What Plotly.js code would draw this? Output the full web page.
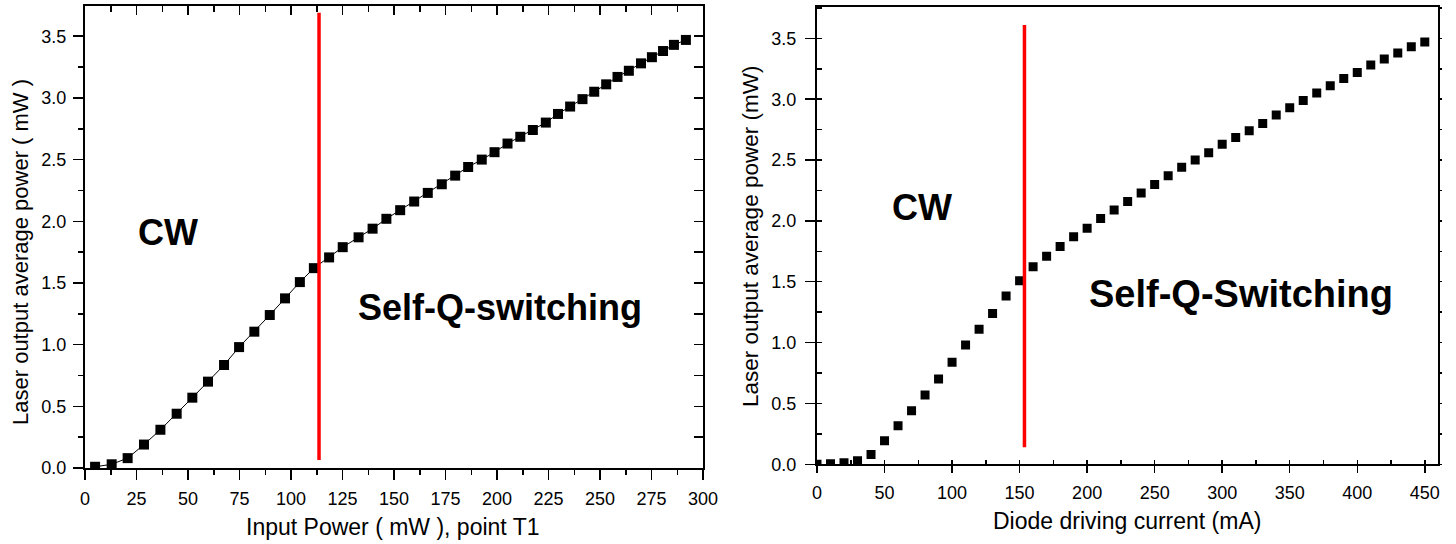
<!DOCTYPE html>
<html>
<head>
<meta charset="utf-8">
<script src="https://cdn.plot.ly/plotly-3.0.1.min.js"></script>
<style>html,body{margin:0;padding:0;background:#fff;}#chart{width:1456px;height:544px;}</style>
</head>
<body>
<div id="chart"></div>
<script>
// ---- Left panel: output power vs input power (point T1)
const inputPower = [4.9, 12.95, 20.7, 28.65, 36.6, 44.5, 52.1, 59.7, 67.5, 74.8, 82.2, 89.7, 97.1, 104.3, 111.1, 118.5,
  125.1, 132.8, 139.6, 146.3, 153.0, 159.8, 166.4, 173.2, 179.7, 186.0, 192.6, 198.8, 205.1, 211.3, 217.4, 223.7,
  229.6, 235.5, 241.5, 247.2, 253.0, 258.5, 264.0, 269.9, 275.2, 280.6, 285.9, 291.7];
const outputPowerLeft = [0.01, 0.03, 0.08, 0.19, 0.31, 0.44, 0.57, 0.70, 0.835, 0.98, 1.105, 1.24, 1.375, 1.507, 1.62, 1.707,
  1.79, 1.87, 1.94, 2.02, 2.09, 2.16, 2.23, 2.30, 2.37, 2.44, 2.50, 2.56, 2.63, 2.685, 2.74, 2.80,
  2.87, 2.93, 2.99, 3.05, 3.11, 3.17, 3.22, 3.28, 3.33, 3.38, 3.43, 3.47];
const thresholdLeftX = [113.6, 113.6];
const thresholdLeftY = [0.065, 3.69];

// ---- Right panel: output power vs diode driving current
const diodeCurrent = [0, 10, 20, 30, 40, 50, 60, 70, 80, 90, 100, 110, 120, 130, 140, 150, 160, 170, 180, 190,
  200, 210, 220, 230, 240, 250, 260, 270, 280, 290, 300, 310, 320, 330, 340, 350, 360, 370, 380, 390,
  400, 410, 420, 430, 440, 450];
const outputPowerRight = [0.0, 0.005, 0.013, 0.03, 0.08, 0.194, 0.317, 0.44, 0.57, 0.70, 0.838, 0.98, 1.109, 1.24, 1.383, 1.509, 1.624, 1.71, 1.79, 1.87,
  1.94, 2.02, 2.09, 2.16, 2.23, 2.30, 2.37, 2.44, 2.50, 2.56, 2.63, 2.685, 2.74, 2.80, 2.87, 2.93, 2.99, 3.05, 3.11, 3.17,
  3.22, 3.28, 3.33, 3.38, 3.43, 3.47];
const thresholdRightX = [153.6, 153.6];
const thresholdRightY = [0.14, 3.61];

// ---- Text
const leftXTitle = 'Input Power ( mW ), point T1';
const leftYTitle = 'Laser output average power ( mW )';
const rightXTitle = 'Diode driving current (mA)';
const rightYTitle = 'Laser output average power (mW)';
const regionLabels = ['CW', 'Self-Q-switching', 'CW', 'Self-Q-Switching'];

const FONT = 'Liberation Sans, Arial, Helvetica, sans-serif';
const tickFont = {family: FONT, size: 18, color: '#000'};

const traces = [
  {x: inputPower, y: outputPowerLeft, xaxis: 'x', yaxis: 'y', mode: 'lines+markers', type: 'scatter',
   line: {color: '#000', width: 1}, marker: {symbol: 'square', size: 10, color: '#000'}, hoverinfo: 'x+y'},
  {x: thresholdLeftX, y: thresholdLeftY, xaxis: 'x', yaxis: 'y', mode: 'lines', type: 'scatter',
   line: {color: '#ff0000', width: 3.5}, hoverinfo: 'skip'},
  {x: diodeCurrent, y: outputPowerRight, xaxis: 'x2', yaxis: 'y2', mode: 'markers', type: 'scatter',
   marker: {symbol: 'square', size: 9, color: '#000'}, hoverinfo: 'x+y'},
  {x: thresholdRightX, y: thresholdRightY, xaxis: 'x2', yaxis: 'y2', mode: 'lines', type: 'scatter',
   line: {color: '#ff0000', width: 3.5}, hoverinfo: 'skip'},
  // invisible carriers for the mirrored tick axes
  {x: [null], y: [null], xaxis: 'x3', yaxis: 'y3', mode: 'markers', type: 'scatter', hoverinfo: 'skip'},
  {x: [null], y: [null], xaxis: 'x2', yaxis: 'y4', mode: 'markers', type: 'scatter', hoverinfo: 'skip'}
];

const leftXDomain = [85/1456, 703/1456];
const rightXDomain = [817/1456, 1438.3/1456];
const leftYDomain = [(544-468)/544, (544-6)/544];
const rightYDomain = [(544-464.3)/544, (544-7.3)/544];

const layout = {
  width: 1456, height: 544, autosize: false,
  margin: {l: 0, r: 0, t: 0, b: 0, pad: 0},
  paper_bgcolor: '#fff', plot_bgcolor: '#fff',
  showlegend: false,
  font: {family: FONT, color: '#000'},
  xaxis: {domain: leftXDomain, anchor: 'y', range: [0, 300], dtick: 25, tick0: 0,
    showline: true, linecolor: '#000', linewidth: 2, mirror: true, showgrid: false, zeroline: false,
    ticks: 'outside', ticklen: 10, tickwidth: 1.5, tickcolor: '#000', tickfont: tickFont, ticklabelstandoff: 3,
    minor: {dtick: 12.5, ticks: 'outside', ticklen: 5, tickwidth: 1.5, tickcolor: '#000', showgrid: false}},
  yaxis: {domain: leftYDomain, anchor: 'x', range: [0, 3.745], dtick: 0.5, tick0: 0, tickformat: '.1f',
    showline: true, linecolor: '#000', linewidth: 2, mirror: true, showgrid: false, zeroline: false,
    ticks: 'outside', ticklen: 10, tickwidth: 1.5, tickcolor: '#000', tickfont: tickFont, ticklabelstandoff: 3,
    minor: {dtick: 0.25, ticks: 'outside', ticklen: 5, tickwidth: 1.5, tickcolor: '#000', showgrid: false}},
  xaxis3: {overlaying: 'x', anchor: 'y', side: 'top', range: [0, 300], dtick: 25, tick0: 0,
    showline: false, showgrid: false, zeroline: false, showticklabels: false,
    ticks: 'inside', ticklen: 9, tickwidth: 1.5, tickcolor: '#000',
    minor: {dtick: 12.5, ticks: 'inside', ticklen: 6, tickwidth: 1.5, tickcolor: '#000', showgrid: false}},
  yaxis3: {overlaying: 'y', anchor: 'x', side: 'right', range: [0, 3.745], dtick: 0.25, tick0: 0,
    showline: false, showgrid: false, zeroline: false, showticklabels: false,
    ticks: 'inside', ticklen: 9, tickwidth: 1.5, tickcolor: '#000'},
  xaxis2: {domain: rightXDomain, anchor: 'y2', range: [0, 460], dtick: 50, tick0: 0,
    showline: true, linecolor: '#000', linewidth: 2, mirror: true, showgrid: false, zeroline: false,
    ticks: 'outside', ticklen: 7, tickwidth: 1.5, tickcolor: '#000', tickfont: tickFont, ticklabelstandoff: 4,
    minor: {dtick: 25, ticks: 'inside', ticklen: 4, tickwidth: 1.5, tickcolor: '#000', showgrid: false}},
  yaxis2: {domain: rightYDomain, anchor: 'x2', range: [0, 3.755], dtick: 0.5, tick0: 0, tickformat: '.1f',
    showline: true, linecolor: '#000', linewidth: 2, mirror: true, showgrid: false, zeroline: false,
    ticks: 'outside', ticklen: 10, tickwidth: 1.5, tickcolor: '#000', tickfont: tickFont, ticklabelstandoff: 5,
    minor: {dtick: 0.25, ticks: 'inside', ticklen: 5, tickwidth: 1.5, tickcolor: '#000', showgrid: false}},
  yaxis4: {overlaying: 'y2', anchor: 'x2', side: 'right', range: [0, 3.755], dtick: 0.25, tick0: 0,
    showline: false, showgrid: false, zeroline: false, showticklabels: false,
    ticks: 'outside', ticklen: 3, tickwidth: 1.5, tickcolor: '#000'},
  annotations: [
    {xref: 'x', yref: 'y', x: 40.3, y: 1.905, text: regionLabels[0], showarrow: false,
     font: {family: FONT, size: 36, color: '#000', weight: 'bold'}, xanchor: 'center', yanchor: 'middle'},
    {xref: 'x', yref: 'y', x: 201.5, y: 1.30, text: regionLabels[1], showarrow: false,
     font: {family: FONT, size: 36, color: '#000', weight: 'bold'}, xanchor: 'center', yanchor: 'middle'},
    {xref: 'x2', yref: 'y2', x: 77.9, y: 2.11, text: regionLabels[2], showarrow: false,
     font: {family: FONT, size: 36, color: '#000', weight: 'bold'}, xanchor: 'center', yanchor: 'middle'},
    {xref: 'x2', yref: 'y2', x: 313.7, y: 1.40, text: regionLabels[3], showarrow: false,
     font: {family: FONT, size: 38, color: '#000', weight: 'bold'}, xanchor: 'center', yanchor: 'middle'},
    {xref: 'paper', yref: 'paper', x: 20/1456, y: (544-252)/544, text: leftYTitle, textangle: -90, showarrow: false,
     font: {family: FONT, size: 22, color: '#000'}, xanchor: 'center', yanchor: 'middle'},
    {xref: 'paper', yref: 'paper', x: 750/1456, y: (544-236)/544, text: rightYTitle, textangle: -90, showarrow: false,
     font: {family: FONT, size: 22.5, color: '#000'}, xanchor: 'center', yanchor: 'middle'},
    {xref: 'paper', yref: 'paper', x: 393/1456, y: (544-527)/544, text: leftXTitle, showarrow: false,
     font: {family: FONT, size: 23, color: '#000'}, xanchor: 'center', yanchor: 'middle'},
    {xref: 'paper', yref: 'paper', x: 1126.5/1456, y: (544-520.7)/544, text: rightXTitle, showarrow: false,
     font: {family: FONT, size: 23, color: '#000'}, xanchor: 'center', yanchor: 'middle'}
  ]
};

Plotly.newPlot('chart', traces, layout, {displayModeBar: false, staticPlot: true});
</script>
</body>
</html>
